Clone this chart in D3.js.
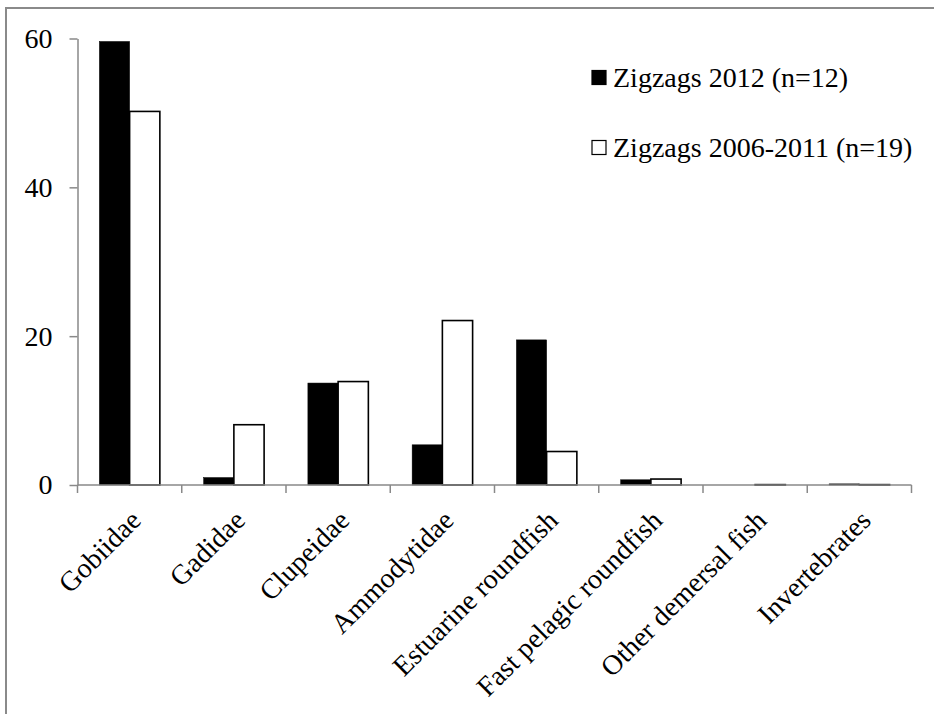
<!DOCTYPE html>
<html>
<head>
<meta charset="utf-8">
<script src="https://cdn.jsdelivr.net/npm/d3@7"></script>
<style>
  html, body { margin: 0; padding: 0; background: #fff; }
  svg { display: block; }
  text { font-family: "Liberation Serif", "Times New Roman", serif; fill: #000; }
</style>
</head>
<body>
<svg id="chart" width="934" height="714"></svg>
<script>
// Diet composition by prey group
const categories = [
  "Gobiidae", "Gadidae", "Clupeidae", "Ammodytidae",
  "Estuarine roundfish", "Fast pelagic roundfish", "Other demersal fish", "Invertebrates"
];
const zigzags2012 = [59.6, 1.0, 13.7, 5.4, 19.5, 0.7, 0, 0.15];
const zigzags2006to2011 = [50.2, 8.1, 13.9, 22.1, 4.5, 0.8, 0.05, 0.05];
const seriesNames = ["Zigzags 2012 (n=12)", "Zigzags 2006-2011 (n=19)"];
const yTicks = [0, 20, 40, 60];

const svg = d3.select("#chart");
const axisColor = "#898989";
const fontSize = 28;

// outer frame
svg.append("rect")
  .attr("x", 6).attr("y", 8)
  .attr("width", 960).attr("height", 740)
  .attr("fill", "none").attr("stroke", "#8a8a8a").attr("stroke-width", 2);

const x = d3.scaleBand().domain(categories).range([77.5, 911.5]).padding(0);
const y = d3.scaleLinear().domain([0, 60]).range([485, 38.5]);
const bw = x.bandwidth();
const barW = bw * 0.29;
const groupOffset = (bw - 2 * barW) / 2;

const series = [
  { name: seriesNames[0], values: zigzags2012, fill: "#000", stroke: "#000" },
  { name: seriesNames[1], values: zigzags2006to2011, fill: "#fff", stroke: "#000" }
];

// bars
series.forEach((s, si) => {
  svg.append("g").selectAll("rect")
    .data(categories.map((c, i) => ({ c, v: s.values[i] })))
    .join("rect")
    .attr("x", d => x(d.c) + groupOffset + si * barW)
    .attr("y", d => y(d.v))
    .attr("width", barW)
    .attr("height", d => y(0) - y(d.v))
    .attr("fill", s.fill)
    .attr("stroke", s.stroke)
    .attr("stroke-width", si === 0 ? 0.5 : 1.6);
});

// y axis
const yAxis = svg.append("g")
  .attr("transform", `translate(${x.range()[0]},0)`)
  .call(d3.axisLeft(y).tickValues(yTicks).tickFormat(d3.format("d"))
    .tickSize(8).tickSizeOuter(0).tickPadding(17));
yAxis.select(".domain").attr("stroke", axisColor).attr("stroke-width", 1.5);
yAxis.selectAll(".tick line").attr("stroke", axisColor).attr("stroke-width", 1.5);
yAxis.selectAll(".tick text")
  .attr("font-family", "Liberation Serif, serif")
  .attr("font-size", fontSize)
  .attr("fill", "#000");

// x axis with boundary ticks between categories
const xAxisG = svg.append("g");
xAxisG.append("line")
  .attr("x1", x.range()[0]).attr("x2", x.range()[1])
  .attr("y1", y(0)).attr("y2", y(0))
  .attr("stroke", axisColor).attr("stroke-width", 1.5);
const boundaries = categories.map(c => x(c)).concat([x.range()[1]]);
xAxisG.selectAll("line.tick")
  .data(boundaries)
  .join("line")
  .attr("class", "tick")
  .attr("x1", d => d).attr("x2", d => d)
  .attr("y1", y(0)).attr("y2", y(0) + 8)
  .attr("stroke", axisColor).attr("stroke-width", 1.5);

// rotated category labels
xAxisG.selectAll("text.cat")
  .data(categories)
  .join("text")
  .attr("class", "cat")
  .attr("transform", d => `translate(${x(d) + bw / 2 + 13},${y(0) + 37}) rotate(-45)`)
  .attr("text-anchor", "end")
  .attr("font-size", fontSize)
  .text(d => d);

// legend
const legend = svg.append("g");
const legendRows = [
  { y: 87, s: series[0] },
  { y: 157, s: series[1] }
];
legendRows.forEach(r => {
  legend.append("rect")
    .attr("x", 592).attr("y", r.y - 16.5)
    .attr("width", 14).attr("height", 14)
    .attr("fill", r.s.fill)
    .attr("stroke", "#000").attr("stroke-width", 1.2);
  legend.append("text")
    .attr("x", 613).attr("y", r.y)
    .attr("font-size", fontSize)
    .text(r.s.name);
});
</script>
</body>
</html>
